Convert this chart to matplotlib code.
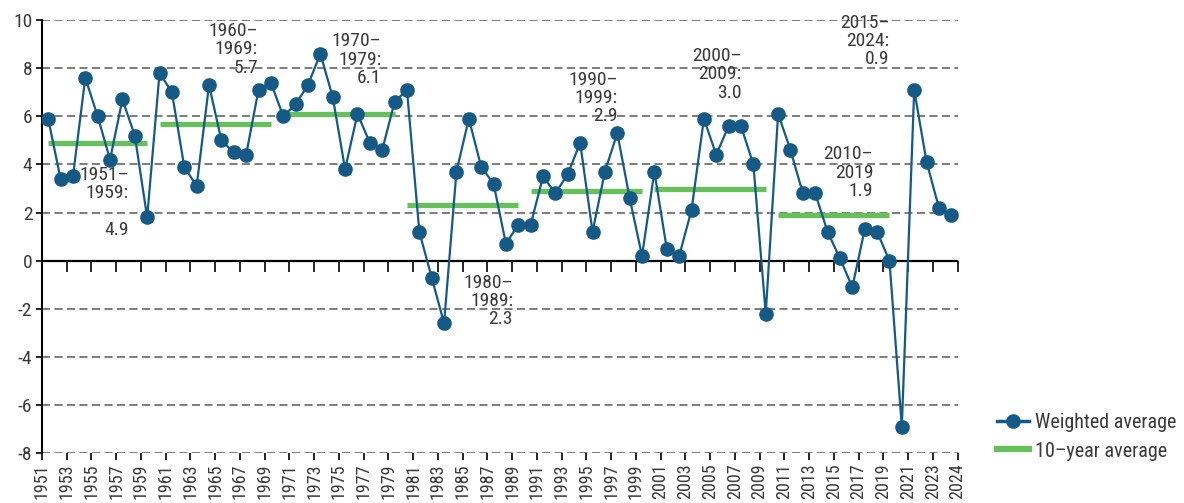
import matplotlib
matplotlib.use("Agg")
import matplotlib.pyplot as plt
import numpy as np
from matplotlib.lines import Line2D

plt.rcParams['font.family'] = ['Roboto Condensed', 'Open Sans Condensed', 'Roboto', 'DejaVu Sans']
plt.rcParams['axes.unicode_minus'] = False

years = list(range(1951, 2025))
weighted_avg = [5.9, 3.4, 3.5, 7.6, 6.0, 4.2, 6.7, 5.2, 1.8, 7.8,
                7.0, 3.9, 3.1, 7.3, 5.0, 4.5, 4.4, 7.1, 7.4, 6.0,
                6.5, 7.3, 8.6, 6.8, 3.8, 6.1, 4.9, 4.6, 6.6, 7.1,
                1.2, -0.7, -2.6, 3.7, 5.9, 3.9, 3.2, 0.7, 1.5, 1.5,
                3.5, 2.8, 3.6, 4.9, 1.2, 3.7, 5.3, 2.6, 0.2, 3.7,
                0.5, 0.2, 2.1, 5.9, 4.4, 5.6, 5.6, 4.0, -2.2, 6.1,
                4.6, 2.8, 2.8, 1.2, 0.1, -1.1, 1.3, 1.2, 0.0, -6.9,
                7.1, 4.1, 2.2, 1.9]

decade_start = [1951, 1960, 1970, 1980, 1990, 2000, 2010]
decade_end = [1959, 1969, 1979, 1989, 1999, 2009, 2019]
decade_avg = [4.9, 5.7, 6.1, 2.3, 2.9, 3.0, 1.9]

annot_texts = ["1951–\n1959:\n\n4.9", "1960–\n1969:\n5.7", "1970–\n1979:\n6.1",
               "1980–\n1989:\n2.3", "1990–\n1999:\n2.9", "2000–\n2009:\n3.0",
               "2010–\n2019\n1.9", "2015–\n2024:\n0.9"]

xtick_years = list(range(1951, 2024, 2)) + [2024]
ytick_vals = list(range(-8, 11, 2))

BLUE = '#155a87'
GREEN = '#68c05c'
TXT = '#3a3a3a'

fig = plt.figure(figsize=(11.84, 5.03), dpi=100)
ax = fig.add_axes([42/1184, 1-453.3/503, (957.5-42)/1184, (453.3-20)/503])

n = len(years)
xc = np.arange(n) + 0.5  # category centres

for s, e, v in zip(decade_start, decade_end, decade_avg):
    ax.hlines(v, years.index(s) + 0.5, years.index(e) + 0.5, color=GREEN, lw=3.8, zorder=3)

ax.plot(xc, weighted_avg, color=BLUE, lw=1.6, marker='o', markersize=9.5,
        markeredgecolor=BLUE, zorder=4)

annot_x = [7.0, 17.46, 27.45, 38.08, 46.54, 56.56, 67.18, 68.5]
annot_y = [2.42, 8.79, 8.35, -1.67, 6.76, 7.75, 3.66, 9.13]
for t, x, y in zip(annot_texts, annot_x, annot_y):
    ax.text(x, y, t, ha='right', va='center', multialignment='right',
            fontsize=14, color=TXT, linespacing=1.03, zorder=5)

ax.set_xlim(0, n)
ax.set_ylim(-8, 10)

xticks = [years.index(y) if y != 2024 else n for y in xtick_years]
ax.set_xticks(xticks, labels=[str(y) for y in xtick_years], rotation=90)
ax.set_yticks(ytick_vals, labels=[str(v) for v in ytick_vals])
ax.tick_params(axis='x', direction='out', length=5, width=1.2, color='black',
               labelsize=13, labelcolor=TXT, pad=2)
ax.tick_params(axis='y', direction='out', length=4, width=1.2, color='black',
               labelsize=14, labelcolor=TXT, pad=3)

for s in ['top', 'right', 'bottom']:
    ax.spines[s].set_visible(False)
ax.spines['left'].set_color('black')
ax.spines['left'].set_linewidth(1.5)

ax.yaxis.grid(True, linestyle=(0, (4.8, 2.7)), color='#666666', linewidth=1.2, zorder=1)
ax.set_axisbelow(True)

# zero line with downward ticks
ax.axhline(0, color='black', lw=1.6, zorder=2)
sec = ax.secondary_xaxis(8/18)
sec.set_xticks(xticks, labels=['']*len(xticks))
sec.tick_params(axis='x', direction='out', length=8, width=1.2, color='black')
for s in sec.spines.values():
    s.set_visible(False)

handles = [Line2D([], [], color=BLUE, lw=2.5, marker='o', markersize=9.5),
           Line2D([], [], color=GREEN, lw=4.5)]
leg = fig.legend(handles, ['Weighted average', '10–year average'],
                 loc='center left', bbox_to_anchor=(997/1184, 1-437/503),
                 frameon=False, fontsize=14.5, handlelength=1.6, handletextpad=0.3,
                 labelspacing=0.45, borderpad=0, borderaxespad=0)
for t in leg.get_texts():
    t.set_color(TXT)

fig.savefig('out.png', dpi=100)
